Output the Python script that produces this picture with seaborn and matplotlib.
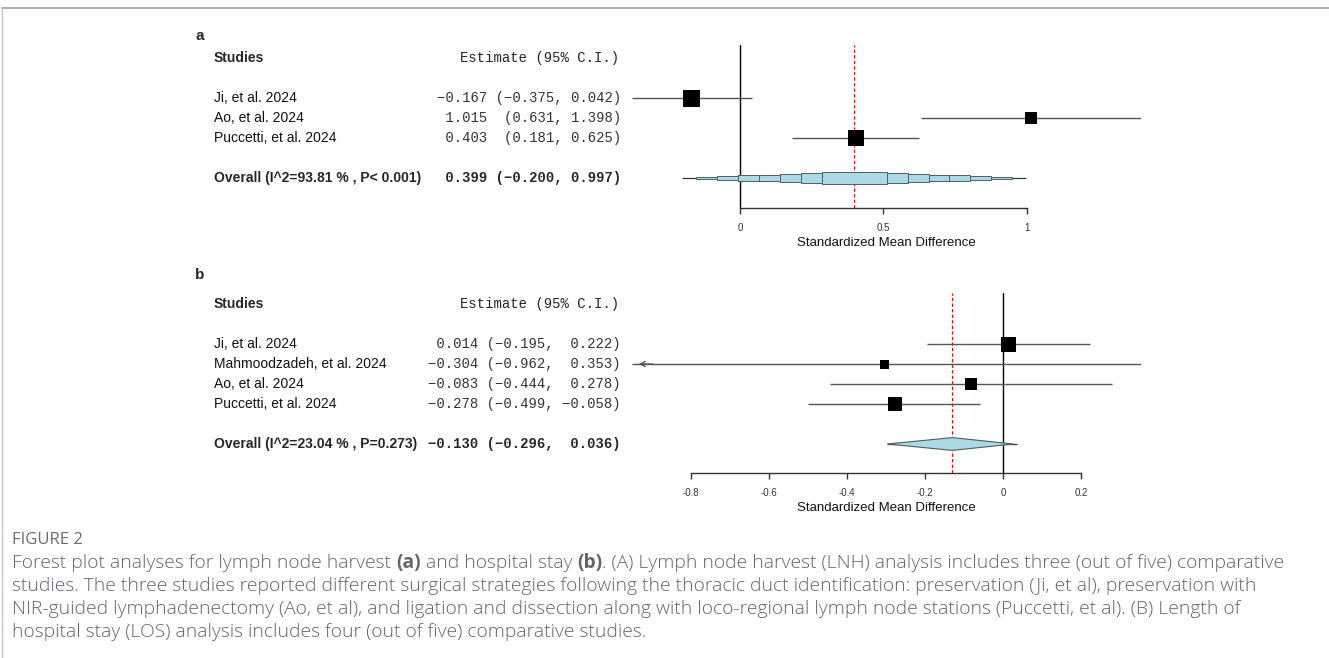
import matplotlib
matplotlib.use("Agg")
import matplotlib.pyplot as plt
import matplotlib.transforms as mtransforms
from matplotlib.patches import Rectangle, Polygon
from matplotlib.lines import Line2D
import seaborn as sns

# Panel a: lymph node harvest
studies_a = ["Ji, et al. 2024", "Ao, et al. 2024", "Puccetti, et al. 2024"]
est_a = [-0.167, 1.015, 0.403]
lo_a = [-0.375, 0.631, 0.181]
hi_a = [0.042, 1.398, 0.625]
overall_a = [0.399, -0.200, 0.997]
overall_label_a = "Overall (I^2=93.81 % , P< 0.001)"
ticks_a = [0, 0.5, 1]
box_a = [17, 12, 16]

# Panel b: hospital stay
studies_b = ["Ji, et al. 2024", "Mahmoodzadeh, et al. 2024", "Ao, et al. 2024", "Puccetti, et al. 2024"]
est_b = [0.014, -0.304, -0.083, -0.278]
lo_b = [-0.195, -0.962, -0.444, -0.499]
hi_b = [0.222, 0.353, 0.278, -0.058]
overall_b = [-0.130, -0.296, 0.036]
overall_label_b = "Overall (I^2=23.04 % , P=0.273)"
ticks_b = [-0.8, -0.6, -0.4, -0.2, 0, 0.2]
box_b = [15, 9, 12, 14]

caption_title = "FIGURE 2"
caption_lines = [
    [("Forest plot analyses for lymph node harvest ", "normal"), ("(a)", "bold"),
     (" and hospital stay ", "normal"), ("(b)", "bold"),
     (". (A) Lymph node harvest (LNH) analysis includes three (out of five) comparative", "normal")],
    [("studies. The three studies reported different surgical strategies following the thoracic duct identification: preservation (Ji, et al), preservation with", "normal")],
    [("NIR-guided lymphadenectomy (Ao, et al), and ligation and dissection along with loco-regional lymph node stations (Puccetti, et al). (B) Length of", "normal")],
    [("hospital stay (LOS) analysis includes four (out of five) comparative studies.", "normal")],
]

sns.set_style("white")
plt.rcParams["font.family"] = ["Liberation Sans", "DejaVu Sans"]

W, H = 1329, 658
fig = plt.figure(figsize=(W / 100, H / 100), dpi=100)


def mono(v, width):
    return f"{v:{width}.3f}".replace("-", "\u2212")


def fmt_a(e, l, h):
    ci = "(" + mono(l, 0) + ", " + mono(h, 0) + ")"
    return mono(e, 6) + " " + f"{ci:>15}"


def fmt_b(e, l, h):
    return mono(e, 6) + " (" + mono(l, 6) + ", " + mono(h, 6) + ")"


def draw_panel(rect, xlim, ylim, letter, letter_y, studies, est, lo, hi, overall,
               overall_label, ticks, box, fmt, stepped):
    ax = fig.add_axes([rect[0] / W, 1 - rect[3] / H, (rect[2] - rect[0]) / W, (rect[3] - rect[1]) / H])
    ax.set_xlim(xlim)
    ax.set_ylim(ylim)
    n = len(studies)
    rows = list(range(1, n + 1))
    orow = n + 2

    ax.axvline(0, color="black", lw=1.0, zorder=1)
    ax.axvline(overall[0], color="red", ls=(0, (3, 2)), lw=0.8, zorder=1)

    # confidence intervals
    for r, l, h in zip(rows, lo, hi):
        left = max(l, xlim[0])
        ax.hlines(r, left, min(h, xlim[1]), color="#555555", lw=1.0, zorder=2)
        if l < xlim[0]:
            ax.annotate("", xy=(xlim[0] + 0.01, r), xytext=(xlim[0] + 0.06, r),
                        arrowprops=dict(arrowstyle="->", color="#555555", lw=1.0,
                                        mutation_scale=9), annotation_clip=False)

    sizes = [(b * 0.72) ** 2 for b in box]
    sns.scatterplot(x=est, y=rows, marker="s", s=sizes, color="black",
                    edgecolor="black", linewidth=0, ax=ax, legend=False, zorder=3)

    # overall estimate
    e, l, h = overall
    ax.hlines(orow, l, h, color="#333333", lw=0.9, zorder=2)
    if stepped:
        half = (h - l) / 2
        for k in range(7):
            hw = half * (0.92 - 0.122 * k)
            ht = 0.6 * (k + 1) / 7
            ax.add_patch(Rectangle((e - hw, orow - ht / 2), 2 * hw, ht,
                                   facecolor="#add8e6", edgecolor="#4d5d62",
                                   lw=0.7, zorder=3 + k))
    else:
        ax.add_patch(Polygon([(l, orow), (e, orow - 0.32), (h - 0.01, orow), (e, orow + 0.32)],
                             closed=True, facecolor="#add8e6", edgecolor="#4d5d62",
                             lw=0.8, zorder=3))

    for s in ["top", "left", "right"]:
        ax.spines[s].set_visible(False)
    ax.spines["bottom"].set_bounds(ticks[0], ticks[-1])
    ax.spines["bottom"].set_color("#333333")
    ax.spines["bottom"].set_linewidth(1.0)
    ax.set_xticks(ticks)
    ax.set_xticklabels([f"{t:g}" for t in ticks])
    ax.set_yticks([])
    ax.tick_params(axis="x", direction="out", length=4, width=1.0, color="#333333",
                   pad=7, labelsize=7, labelcolor="#333333", bottom=True)
    ax.set_xlabel("Standardized Mean Difference", fontsize=9.5, labelpad=3, color="#111111")

    tr = mtransforms.blended_transform_factory(fig.transFigure, ax.transData)
    fig.text(195 / W, 1 - letter_y / H, letter, fontsize=11, fontweight="bold", va="center")
    ax.text(214 / W, -1, "Studies", transform=tr, fontsize=10, fontweight="bold", va="center")
    ax.text(619 / W, -1, "Estimate (95% C.I.)", transform=tr, fontsize=10,
            family="Liberation Mono", ha="right", va="center", color="#222222")
    for r, name, ee, ll, hh in zip(rows, studies, est, lo, hi):
        ax.text(214 / W, r, name, transform=tr, fontsize=10, va="center", color="#111111")
        ax.text(621 / W, r, fmt(ee, ll, hh), transform=tr, fontsize=10,
                family="Liberation Mono", ha="right", va="center", color="#333333")
    ax.text(214 / W, orow, overall_label, transform=tr, fontsize=10, fontweight="bold", va="center")
    ax.text(621 / W, orow, fmt(e, l, h), transform=tr, fontsize=10, fontweight="bold",
            family="Liberation Mono", ha="right", va="center")
    return ax


draw_panel((632, 45, 1141, 208), (-0.376, 1.398), (6.5, -1.65), "a", 36,
           studies_a, est_a, lo_a, hi_a, overall_a, overall_label_a, ticks_a, box_a, fmt_a, True)
draw_panel((632, 293, 1141, 473), (-0.95, 0.353), (7.45, -1.55), "b", 275,
           studies_b, est_b, lo_b, hi_b, overall_b, overall_label_b, ticks_b, box_b, fmt_b, False)

# frame lines of the figure box
fig.add_artist(Line2D([2 / W, 1], [1 - 8 / H, 1 - 8 / H], color="#9c9ca8", lw=1.2))
fig.add_artist(Line2D([2 / W, 2 / W], [0, 1 - 8 / H], color="#c4c4cc", lw=1.0))

# caption
cap_color = "#62636d"
cap_font = ["Open Sans", "DejaVu Sans"]
fig.text(12 / W, 1 - 540 / H, caption_title, fontsize=12, color="#6a6b75",
         family=cap_font, va="center")
renderer = fig.canvas.get_renderer()
for i, segs in enumerate(caption_lines):
    x = 12 / W
    y = 1 - (563 + 23 * i) / H
    for txt, wt in segs:
        t = fig.text(x, y, txt, fontsize=13.85, color=cap_color, family=cap_font,
                     fontweight=wt if wt == "bold" else "light", va="center")
        bb = t.get_window_extent(renderer)
        x = bb.x1 / W

fig.savefig("out.png", dpi=100)
